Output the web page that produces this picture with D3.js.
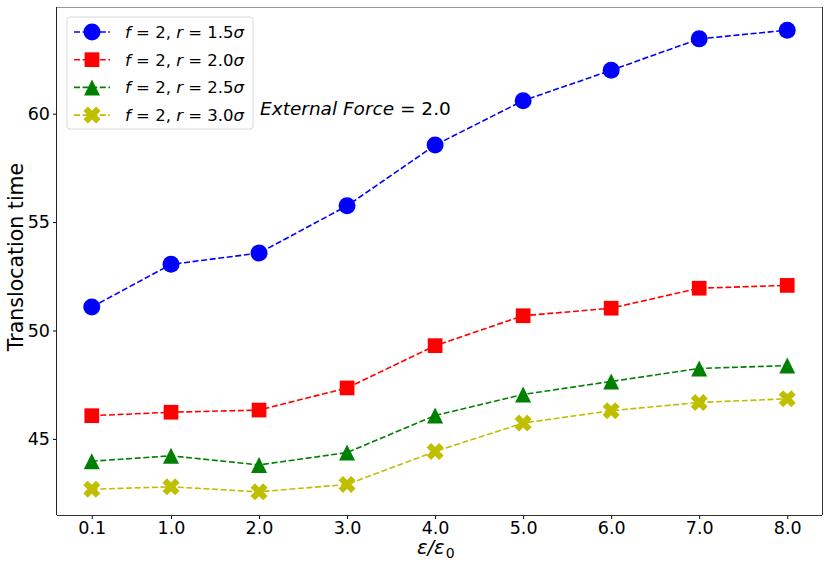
<!DOCTYPE html>
<html><head><meta charset="utf-8">
<script src="https://cdn.jsdelivr.net/npm/d3@7"></script>
<style>body{margin:0;background:#fff}text{font-family:"DejaVu Sans",sans-serif}</style>
</head><body><svg id="c" width="830" height="568"></svg>
<script>
const xValues = [0.1, 1.0, 2.0, 3.0, 4.0, 5.0, 6.0, 7.0, 8.0];
const xTickLabels = ["0.1","1.0","2.0","3.0","4.0","5.0","6.0","7.0","8.0"];
const yTicks = [45, 50, 55, 60];
const seriesR15 = [51.08, 53.05, 53.57, 55.75, 58.55, 60.6, 62.0, 63.45, 63.85];
const seriesR20 = [46.07, 46.23, 46.33, 47.35, 49.3, 50.68, 51.03, 51.95, 52.08];
const seriesR25 = [43.97, 44.22, 43.8, 44.37, 46.08, 47.05, 47.65, 48.25, 48.38];
const seriesR30 = [42.68, 42.79, 42.56, 42.9, 44.42, 45.73, 46.3, 46.68, 46.85];
const seriesLabels = ["1.5", "2.0", "2.5", "3.0"];
const colors = ["#0000ff", "#ff0000", "#008000", "#bfbf00"];
const markers = ["circle", "square", "triangle", "x"];
const allSeries = [seriesR15, seriesR20, seriesR25, seriesR30];

const svg = d3.select("#c");
const L = 57, R = 822, T = 7, B = 515;
const x = d3.scaleLinear().domain([-0.295, 8.395]).range([L, R]);
const y = d3.scaleLinear().domain([41.49, 64.92]).range([B, T]);

function markerPath(type, s) {
  if (type === "circle") return d3.symbol(d3.symbolCircle, Math.PI * (s/2) * (s/2))();
  if (type === "square") { const h = s/2*0.92; return `M${-h},${-h}H${h}V${h}H${-h}Z`; }
  if (type === "triangle") { const h = s/2; return `M0,${-h}L${h},${h}L${-h},${h}Z`; }
  if (type === "x") {
    const a = s/2, w = s*0.26;
    return `M${-a+w},${-a}L0,${-w}L${a-w},${-a}L${a},${-a+w}L${w},0L${a},${a-w}L${a-w},${a}L0,${w}L${-a+w},${a}L${-a},${a-w}L${-w},0L${-a},${-a+w}Z`;
  }
}
const msize = k => markers[k]==="circle" ? 17 : (markers[k]==="x" ? 17 : 16);

// axes
const gx = svg.append("g").attr("transform", `translate(0,${B})`)
  .call(d3.axisBottom(x).tickValues(xValues).tickFormat((d,i)=>xTickLabels[i]).tickSize(4).tickPadding(3));
gx.select(".domain").remove();
gx.selectAll("text").attr("font-size", 17.5).attr("fill", "#000").style("font-family", "DejaVu Sans");
gx.selectAll("line").attr("stroke", "#000");
const gy = svg.append("g").attr("transform", `translate(${L},0)`)
  .call(d3.axisLeft(y).tickValues(yTicks).tickSize(4).tickPadding(3));
gy.select(".domain").remove();
gy.selectAll("text").attr("font-size", 17.5).attr("fill", "#000").style("font-family", "DejaVu Sans");
gy.selectAll("line").attr("stroke", "#000");

// spines
svg.append("line").attr("x1", L).attr("x2", R).attr("y1", T+0.5).attr("y2", T+0.5).attr("stroke", "#999");
svg.append("line").attr("x1", L).attr("x2", R).attr("y1", B+0.5).attr("y2", B+0.5).attr("stroke", "#333");
svg.append("line").attr("x1", L-0.5).attr("x2", L-0.5).attr("y1", T).attr("y2", B).attr("stroke", "#222");
svg.append("line").attr("x1", R+0.5).attr("x2", R+0.5).attr("y1", T).attr("y2", B).attr("stroke", "#333");

// series
const line = d3.line().x((d,i)=>x(xValues[i])).y(d=>y(d));
allSeries.forEach((s, k) => {
  svg.append("path").datum(s).attr("d", line).attr("fill", "none")
    .attr("stroke", colors[k]).attr("stroke-width", 1.6).attr("stroke-dasharray", "6,2.6");
  svg.selectAll(null).data(s).enter().append("path")
    .attr("d", markerPath(markers[k], msize(k)))
    .attr("transform", (d,i)=>`translate(${x(xValues[i])},${y(d)})`)
    .attr("fill", colors[k]);
});

// legend
const lg = svg.append("g");
lg.append("rect").attr("x", 67).attr("y", 17).attr("width", 186).attr("height", 112)
  .attr("rx", 3).attr("fill", "#fff").attr("fill-opacity", 0.8).attr("stroke", "#d8d8d8");
seriesLabels.forEach((lab, k) => {
  const yy = 32 + k * 27.7;
  lg.append("line").attr("x1", 74).attr("x2", 110).attr("y1", yy).attr("y2", yy)
    .attr("stroke", colors[k]).attr("stroke-width", 1.6).attr("stroke-dasharray", "6,2.6");
  lg.append("path").attr("d", markerPath(markers[k], msize(k)))
    .attr("transform", `translate(92,${yy})`).attr("fill", colors[k]);
  const t = lg.append("text").attr("x", 125).attr("y", yy + 6).attr("font-size", 16.5).attr("fill", "#000");
  t.append("tspan").attr("font-style", "italic").text("f");
  t.append("tspan").text(" = 2, ");
  t.append("tspan").attr("font-style", "italic").text("r");
  t.append("tspan").text(" = " + lab);
  t.append("tspan").attr("font-style", "italic").text("σ");
});

// annotation
const ann = svg.append("text").attr("x", 260).attr("y", 115).attr("font-size", 18.5).attr("fill", "#000");
ann.append("tspan").attr("font-style", "italic").text("External Force");
ann.append("tspan").text(" = 2.0");

// axis labels
const xl = svg.append("text").attr("x", 417).attr("y", 554).attr("font-size", 19.5).attr("fill", "#000")
  .attr("font-style", "italic").text("ε/ε");
const w = xl.node().getComputedTextLength();
svg.append("text").attr("x", 417 + w + 1).attr("y", 558).attr("font-size", 14).attr("fill", "#000").text("0");
svg.append("text").attr("transform", `translate(23,257) rotate(-90)`)
  .attr("text-anchor", "middle").attr("font-size", 20.5).attr("fill", "#000").text("Translocation time");
</script></body></html>
